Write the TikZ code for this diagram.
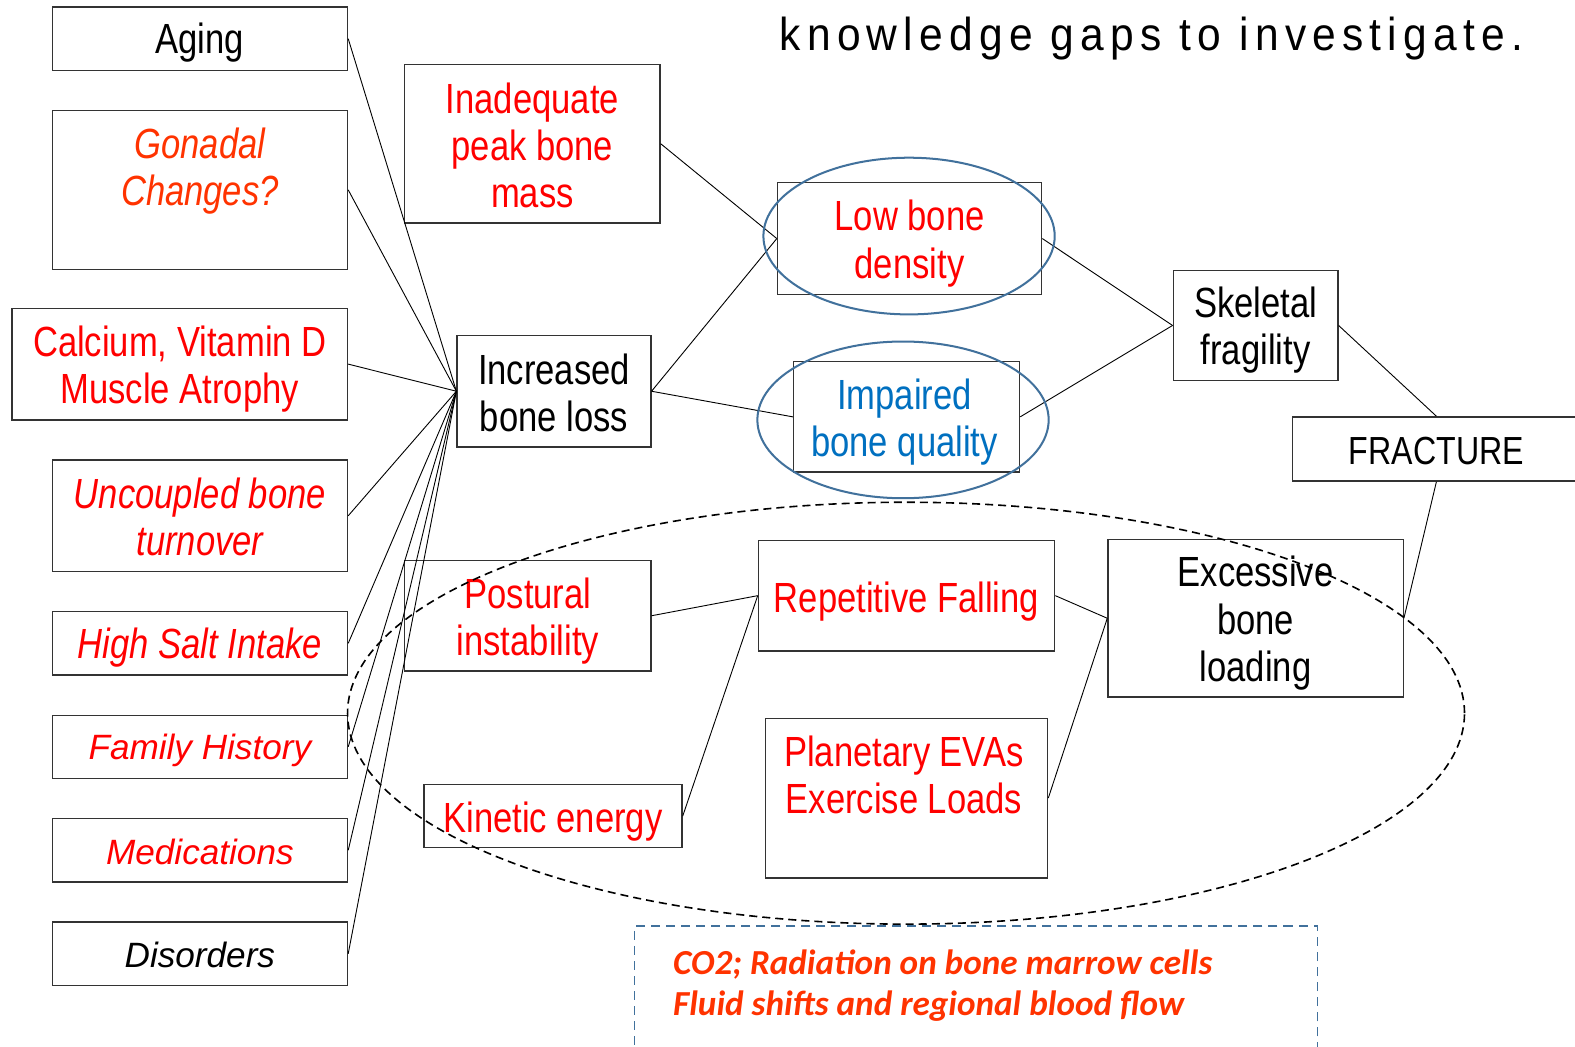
\documentclass[tikz,border=0pt]{standalone}
\usepackage{fontspec}
\setmainfont{Liberation Sans}
\newfontfamily\narrowfont[FakeStretch=0.82]{Liberation Sans}
\newfontfamily\titlefont[FakeStretch=0.92,LetterSpace=13.5]{Liberation Sans}
\newfontfamily\calibfont{Carlito}
\usetikzlibrary{shapes.geometric}
\definecolor{myred}{HTML}{FF0000}
\definecolor{myorange}{HTML}{FF3300}
\definecolor{myblue}{HTML}{0070C0}
\definecolor{ellblue}{HTML}{41719C}
\tikzset{
  box/.style={draw=black!80, line width=1.3pt, rectangle, inner sep=0pt},
  lbl/.style={inner sep=0pt, align=center},
  big/.style={lbl, font=\narrowfont\fontsize{42}{47}\selectfont},
  bigit/.style={lbl, font=\narrowfont\itshape\fontsize{42}{47}\selectfont},
  midit/.style={lbl, font=\itshape\fontsize{35}{42}\selectfont},
  conn/.style={draw=black, line width=0.9pt},
  blueell/.style={draw=ellblue, line width=2pt, ellipse},
}
\begin{document}
\begin{tikzpicture}[x=1pt,y=-1pt]
\useasboundingbox[fill=white] (0,0) rectangle (1568,1042);

% title
\node[anchor=base west, inner sep=0pt, font=\titlefont\fontsize{46}{50}\selectfont] (title) at (776,50) {knowledge gaps to investigate.};

% left column boxes
\node[box, minimum width=294, minimum height=63] (aging) at (199,38.5) {};
\node[box, minimum width=294, minimum height=158] (gonadal) at (199,189) {};
\node[box, minimum width=334, minimum height=111] (calcium) at (179,362.5) {};
\node[box, minimum width=294, minimum height=111] (uncoupled) at (199,513.5) {};
\node[box, minimum width=294, minimum height=63] (salt) at (199,640.5) {};
\node[box, minimum width=294, minimum height=63] (family) at (199,743.5) {};
\node[box, minimum width=294, minimum height=63] (medic) at (199,846.5) {};
\node[box, minimum width=294, minimum height=63] (disord) at (199,949.5) {};

\node[big] (agingt) at ([yshift=-4pt]aging.center) {Aging};
\node[bigit, text=myorange] (gonadalt) at (199,170) {Gonadal\\Changes?};
\node[big, text=myred] (calciumt) at ([yshift=-5pt]calcium.center) {Calcium, Vitamin D\\Muscle Atrophy};
\node[bigit, text=myred] (uncoupledt) at ([yshift=-1pt]uncoupled.center) {Uncoupled bone\\turnover};
\node[bigit, text=myred] (saltt) at ([yshift=-4pt]salt.center) {High Salt Intake};
\node[midit, text=myred] (familyt) at ([yshift=-4pt]family.center) {Family History};
\node[midit, text=myred] (medict) at ([yshift=-2pt]medic.center) {Medications};
\node[midit] (disordt) at ([yshift=-1pt]disord.center) {Disorders};

% middle boxes
\node[box, minimum width=254, minimum height=158] (inadeq) at (530,143) {};
\node[box, minimum width=193, minimum height=111] (incr) at (551.5,389.5) {};
\node[box, minimum width=245, minimum height=110] (postural) at (525.5,613) {};
\node[box, minimum width=257, minimum height=63] (kinetic) at (550.5,812.5) {};
\node[box, minimum width=263, minimum height=111] (lowbone) at (905.5,237.5) {};
\node[box, minimum width=225, minimum height=110] (impaired) at (902.5,415) {};
\node[box, minimum width=295, minimum height=110] (repet) at (902.5,593) {};
\node[box, minimum width=281, minimum height=159] (planet) at (902.5,794.5) {};

\node[big, text=myred] (inadeqt) at ([yshift=-2pt]inadeq.center) {Inadequate\\peak bone\\mass};
\node[big] (incrt) at ([yshift=-2pt]incr.center) {Increased\\bone loss};
\node[big, text=myred] (posturalt) at ([yshift=-5pt]postural.center) {Postural\\instability};
\node[big, text=myred] (kinetict) at ([yshift=-5pt]kinetic.center) {Kinetic energy};
\node[big, text=myred] (lowbonet) at ([yshift=-5pt]lowbone.center) {Low bone\\density};
\node[big, text=myblue] (impairedt) at ([xshift=-2pt,yshift=-5pt]impaired.center) {Impaired\\bone quality};
\node[big, text=myred] (repett) at ([yshift=-6pt]repet.center) {Repetitive Falling};
\node[big, text=myred] (planett) at (900,771.5) {Planetary EVAs\\Exercise Loads};

% right boxes
\node[box, minimum width=164, minimum height=110] (skel) at (1250,324) {};
\node[box, minimum width=294, minimum height=157] (excess) at (1250,615.5) {};
\node[box, minimum width=286, minimum height=64] (fract) at (1430,447) {};

\node[big] (skelt) at ([yshift=-5pt]skel.center) {Skeletal\\fragility};
\node[big] (excesst) at ([yshift=-5pt]excess.center) {Excessive\\bone\\loading};
\node[lbl, font=\narrowfont\fontsize{39}{44}\selectfont] (fractt) at ([yshift=-2pt]fract.center) {FRACTURE};

% connectors
\foreach \n in {aging,gonadal,calcium,uncoupled,salt,family,medic,disord}
  \draw[conn] (\n.east) -- (incr.west);
\draw[conn] (inadeq.east) -- (lowbone.west);
\draw[conn] (incr.east) -- (lowbone.west);
\draw[conn] (incr.east) -- (impaired.west);
\draw[conn] (lowbone.east) -- (skel.west);
\draw[conn] (impaired.east) -- (skel.west);
\draw[conn] (skel.east) -- (fract.north);
\draw[conn] (fract.south) -- (excess.east);
\draw[conn] (postural.east) -- (repet.west);
\draw[conn] (kinetic.east) -- (repet.west);
\draw[conn] (repet.east) -- (excess.west);
\draw[conn] (planet.east) -- (excess.west);

% ellipses
\node[blueell, minimum width=290, minimum height=156] (ell1) at (905,235) {};
\node[blueell, minimum width=290, minimum height=156] (ell2) at (899,418) {};
\node[draw=black, line width=1.6pt, dash pattern=on 8pt off 5pt, ellipse, minimum width=1112, minimum height=420] (bigell) at (902,710) {};

% dashed box
\node[draw=ellblue, line width=1.5pt, dash pattern=on 9pt off 6pt, rectangle, minimum width=680, minimum height=150, anchor=north west] (envbox) at (631,921) {};
\node[anchor=north west, inner sep=0pt, align=left, text=myorange, font=\calibfont\bfseries\itshape\fontsize{35}{41}\selectfont] (envtxt) at (670,945) {CO2; Radiation on bone marrow cells\\Fluid shifts and regional blood flow};
\end{tikzpicture}
\end{document}
